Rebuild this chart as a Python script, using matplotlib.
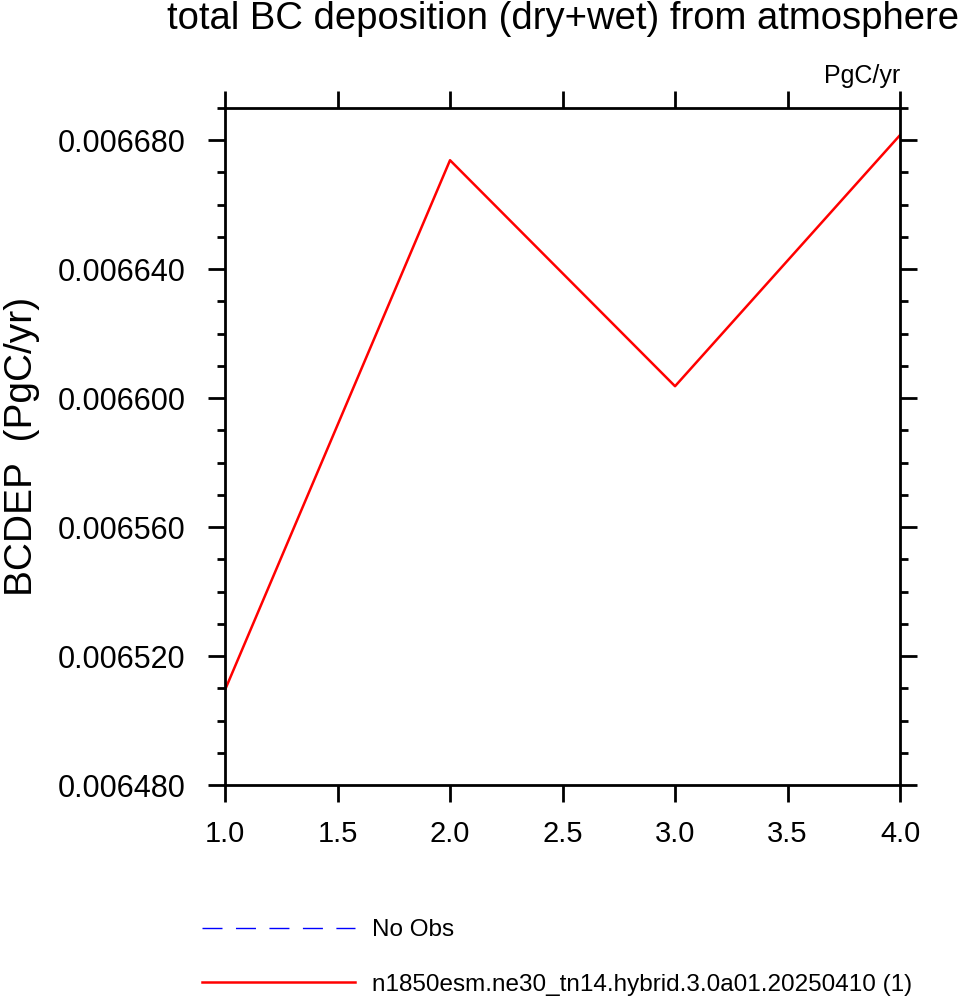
import matplotlib
matplotlib.use("Agg")
import matplotlib.pyplot as plt
from matplotlib.ticker import MultipleLocator, FormatStrFormatter
import numpy as np

plt.rcParams['font.family'] = ['Liberation Sans', 'DejaVu Sans']

# values
years = [1, 2, 3, 4]
bcdep = [0.0065095, 0.0066738, 0.0066037, 0.0066816]
obs_years = []
obs_values = []

title = 'total BC deposition (dry+wet) from atmosphere'
units = 'PgC/yr'
ylabel = 'BCDEP  (PgC/yr)'
case_name = 'n1850esm.ne30_tn14.hybrid.3.0a01.20250410 (1)'
obs_name = 'No Obs'

fig = plt.figure(figsize=(9.62, 9.99), dpi=100)
ax = fig.add_axes([0.2339, 0.2142, 0.7017, 0.6777])

obs_line, = ax.plot(obs_years, obs_values, color='blue', lw=1.0,
                    dashes=(14.4, 9.7))
case_line, = ax.plot(years, bcdep, color='red', lw=1.8)

ax.set_xlim(1, 4)
ax.set_ylim(0.00648, 0.00669)
ax.xaxis.set_major_locator(MultipleLocator(0.5))
ax.xaxis.set_major_formatter(FormatStrFormatter('%.1f'))
ax.yaxis.set_major_locator(MultipleLocator(0.00004))
ax.yaxis.set_minor_locator(MultipleLocator(0.00001))
ax.yaxis.set_major_formatter(FormatStrFormatter('%.6f'))

for s in ax.spines.values():
    s.set_linewidth(2.0)
ax.tick_params(which='both', direction='out', top=True, right=True,
               width=2.0)
ax.tick_params(which='major', length=12.5)
ax.tick_params(which='minor', length=6)
ax.tick_params(axis='x', pad=13, labelsize=21)
ax.tick_params(axis='y', pad=16, labelsize=22)

ax.set_title(title, fontsize=27.5, pad=57)
ax.annotate(units, xy=(1, 1), xycoords='axes fraction',
            xytext=(0, 18), textcoords='offset points',
            ha='right', va='baseline', fontsize=18)
ax.set_ylabel(ylabel, fontsize=28)
ax.yaxis.set_label_coords(-0.274, 0.5)

fig.legend([obs_line, case_line], [obs_name, case_name],
           loc='upper left', bbox_to_anchor=(0.21, 0.080),
           frameon=False, fontsize=17.5, handlelength=6.3,
           handletextpad=0.7, labelspacing=1.35,
           borderpad=0, borderaxespad=0)

fig.savefig('out.png', dpi=100)
